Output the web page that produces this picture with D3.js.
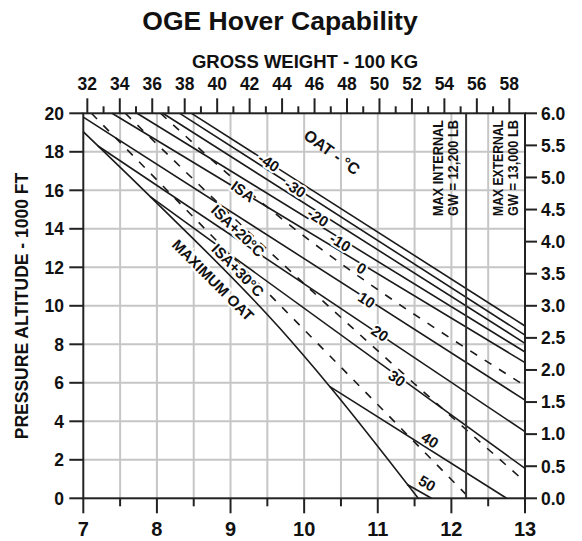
<!DOCTYPE html>
<html>
<head>
<meta charset="utf-8">
<script src="https://cdn.jsdelivr.net/npm/d3@7"></script>
<style>
  body { margin: 0; background: #fff; }
  text { font-family: "Liberation Sans", Arial, Helvetica, sans-serif; font-weight: bold; fill: #111; }
</style>
</head>
<body>
<div id="chart"></div>
<script>
const WIDTH = 582, HEIGHT = 541
const KLB_PER_100KG = 0.220462

// axes
const xTicks = [7, 8, 9, 10, 11, 12, 13]
const yTicks = [0, 2, 4, 6, 8, 10, 12, 14, 16, 18, 20]
const kmTicks = [0, 0.5, 1, 1.5, 2, 2.5, 3, 3.5, 4, 4.5, 5, 5.5, 6]
const kgTicks = [32, 34, 36, 38, 40, 42, 44, 46, 48, 50, 52, 54, 56, 58]

// OAT lines, [gross weight 1000 lb, pressure altitude 1000 ft]
const oatNames = ['-40', '-30', '-20', '-10', '0', '10', '20', '30', '40', '50']
const oatLines = [
  [[8.47, 20], [13, 8.95]],
  [[8.31, 20], [13, 8.48]],
  [[8.08, 20], [13, 8.05]],
  [[7.73, 20], [13, 7.6]],
  [[7.39, 20], [13, 7.05]],
  [[7.0, 19.8], [13, 5.1]],
  [[7.2, 18.3], [13, 3.46]],
  [[7.91, 15.67], [13, 1.55]],
  [[10.35, 5.8], [12.75, 0]],
  [[11.4, 0.72], [11.73, 0]]
]
const oatLabelAt = [
  [9.52, 17.45], [9.88, 16.12], [10.19, 14.6], [10.49, 13.3], [10.78, 11.95],
  [10.85, 10.30], [11.03, 8.57], [11.26, 6.23], [11.71, 3.03], [11.67, 0.78]
]

const maxOat = [[7, 19.04], [7.91, 15.67], [9.67, 8.83], [10.35, 5.8], [11.55, 0]]

const isaNames = ['ISA', 'ISA+20°C', 'ISA+30°C']
const isaLines = [
  [[8.05, 20], [9.1, 16.4], [13, 5.85]],
  [[7.57, 20], [9.2, 14.0], [13, 0.86]],
  [[7.11, 20], [9.67, 10.04], [12.25, 0]]
]
const isaLabelAt = [[9.17, 15.95], [9.1, 13.9], [9.1, 11.85]]

const maxInternal = 12.2

let svg = d3.select('#chart').append('svg')
  .attr('width', WIDTH)
  .attr('height', HEIGHT)

let x = d3.scaleLinear().domain([7, 13]).range([83.3, 525])
let y = d3.scaleLinear().domain([0, 20]).range([498.3, 113.3])
let yKm = d3.scaleLinear().domain([0, 6]).range([498.3, 113.3])
let xKg = (kg) => x(kg * KLB_PER_100KG)

// grid
let grid = svg.append('g').attr('stroke', '#c6c6c6').attr('stroke-width', 2)
grid.selectAll('.gx').data(d3.range(7.5, 13, 0.5)).enter().append('line')
  .attr('x1', (d) => x(d)).attr('x2', (d) => x(d))
  .attr('y1', y(0)).attr('y2', y(20))
grid.selectAll('.gy').data(yTicks.slice(1, -1)).enter().append('line')
  .attr('x1', x(7)).attr('x2', x(13))
  .attr('y1', (d) => y(d)).attr('y2', (d) => y(d))

// curves
let line = d3.line()
  .x((d) => x(d[0]))
  .y((d) => y(d[1]))
  .curve(d3.curveMonotoneX)

let curves = svg.append('g').attr('fill', 'none').attr('stroke', '#1a1a1a')

curves.selectAll('.oat').data(oatLines).enter().append('path')
  .attr('d', line).attr('stroke-width', 1.6)

curves.append('path').datum(maxOat)
  .attr('d', line).attr('stroke-width', 1.6)

curves.selectAll('.isa').data(isaLines).enter().append('path')
  .attr('d', line).attr('stroke-width', 1.6)
  .attr('stroke-dasharray', '8,9')

curves.append('line')
  .attr('x1', x(maxInternal)).attr('x2', x(maxInternal))
  .attr('y1', y(0)).attr('y2', y(20))
  .attr('stroke', '#333').attr('stroke-width', 2)

// labels on curves
function angleAt(pts, xv) {
  let i = 0
  while (i < pts.length - 2 && pts[i + 1][0] < xv) i++
  let a = pts[i], b = pts[i + 1]
  return Math.atan2(y(b[1]) - y(a[1]), x(b[0]) - x(a[0])) * 180 / Math.PI
}

function curveLabel(g, txt, at, pts, size) {
  g.append('text')
    .attr('transform', 'translate(' + [x(at[0]), y(at[1])] + ')rotate(' + angleAt(pts, at[0]) + ')')
    .attr('text-anchor', 'middle')
    .attr('dy', '0.36em')
    .style('font-size', size + 'px')
    .attr('stroke', '#fff').attr('stroke-width', 4).attr('paint-order', 'stroke')
    .text(txt)
}

let labels = svg.append('g')
oatNames.forEach((n, i) => curveLabel(labels, n, oatLabelAt[i], oatLines[i], 15))
isaNames.forEach((n, i) => curveLabel(labels, n, isaLabelAt[i], isaLines[i], 15))
labels.append('text')
  .attr('transform', 'translate(' + [213, 280] + ')rotate(45)')
  .attr('text-anchor', 'middle').attr('dy', '0.36em')
  .style('font-size', '15px')
  .attr('stroke', '#fff').attr('stroke-width', 4).attr('paint-order', 'stroke')
  .text('MAXIMUM OAT')
labels.append('text')
  .attr('transform', 'translate(' + [332, 152] + ')rotate(36)')
  .attr('text-anchor', 'middle').attr('dy', '0.36em')
  .style('font-size', '16px')
  .text('OAT - °C')

// weight limit notes
let notes = [
  { x: 437.5, t: 'MAX INTERNAL' }, { x: 453, t: 'GW = 12,200 LB' },
  { x: 497.5, t: 'MAX EXTERNAL' }, { x: 512.5, t: 'GW = 13,000 LB' }
]
svg.append('g').selectAll('text').data(notes).enter().append('text')
  .attr('transform', (d) => 'translate(' + [d.x, 168] + ')rotate(-90)')
  .attr('text-anchor', 'middle').attr('dy', '0.36em')
  .style('font-size', '15px')
  .attr('textLength', 96).attr('lengthAdjust', 'spacingAndGlyphs')
  .text((d) => d.t)

// frame
svg.append('rect')
  .attr('x', x(7)).attr('y', y(20))
  .attr('width', x(13) - x(7)).attr('height', y(0) - y(20))
  .attr('fill', 'none').attr('stroke', '#222').attr('stroke-width', 2)

// ticks
let ticks = svg.append('g').attr('stroke', '#222').attr('stroke-width', 2)
ticks.selectAll('.tb').data(d3.range(7, 13.01, 0.5)).enter().append('line')
  .attr('x1', (d) => x(d)).attr('x2', (d) => x(d))
  .attr('y1', y(0)).attr('y2', (d) => y(0) + (d % 1 === 0 ? 15 : 8))
ticks.selectAll('.tt').data(d3.range(32, 58.5, 1)).enter().append('line')
  .attr('x1', (d) => xKg(d)).attr('x2', (d) => xKg(d))
  .attr('y1', y(20)).attr('y2', (d) => y(20) - (d % 2 === 0 ? 15 : 7))
ticks.selectAll('.tl').data(yTicks).enter().append('line')
  .attr('x1', x(7) - 14).attr('x2', x(7))
  .attr('y1', (d) => y(d)).attr('y2', (d) => y(d))
ticks.selectAll('.tr').data(kmTicks).enter().append('line')
  .attr('x1', x(13)).attr('x2', x(13) + 12)
  .attr('y1', (d) => yKm(d)).attr('y2', (d) => yKm(d))

// tick labels
svg.append('g').selectAll('text').data(xTicks).enter().append('text')
  .attr('x', (d) => x(d)).attr('y', 536)
  .attr('text-anchor', 'middle').style('font-size', '20px')
  .text((d) => d)
svg.append('g').selectAll('text').data(kgTicks).enter().append('text')
  .attr('x', (d) => xKg(d)).attr('y', 90)
  .attr('text-anchor', 'middle').style('font-size', '17.5px')
  .text((d) => d)
svg.append('g').selectAll('text').data(yTicks).enter().append('text')
  .attr('x', 64).attr('y', (d) => y(d)).attr('dy', '0.36em')
  .attr('text-anchor', 'end').style('font-size', '17.5px')
  .text((d) => d)
svg.append('g').selectAll('text').data(kmTicks).enter().append('text')
  .attr('x', 541).attr('y', (d) => yKm(d)).attr('dy', '0.36em')
  .style('font-size', '17.5px')
  .text((d) => d3.format('.1f')(d))

// titles
svg.append('text')
  .attr('x', 280).attr('y', 30)
  .attr('text-anchor', 'middle').style('font-size', '26.5px')
  .text('OGE Hover Capability')
svg.append('text')
  .attr('x', 305).attr('y', 68)
  .attr('text-anchor', 'middle').style('font-size', '18.5px')
  .text('GROSS WEIGHT - 100 KG')
svg.append('text')
  .attr('transform', 'translate(' + [22, 306] + ')rotate(-90)')
  .attr('text-anchor', 'middle').attr('dy', '0.36em')
  .style('font-size', '17.5px')
  .text('PRESSURE ALTITUDE - 1000 FT')
</script>
</body>
</html>
